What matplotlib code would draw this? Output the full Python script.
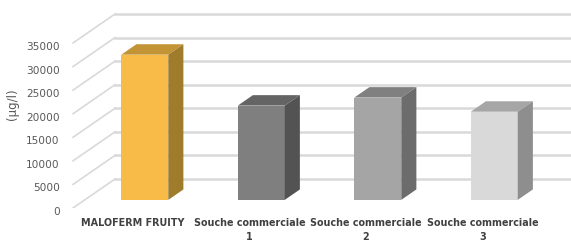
import numpy as np
import matplotlib
matplotlib.use("Agg")
import matplotlib.pyplot as plt
import matplotlib.transforms as mtransforms
from matplotlib.patches import Polygon

# data
categories = ["MALOFERM FRUITY", "Souche commerciale\n1", "Souche commerciale\n2", "Souche commerciale\n3"]
values = [30800, 20000, 21700, 18700]
yticks = [0, 5000, 10000, 15000, 20000, 25000, 30000, 35000]

# face colours: front, top, side
front_cols = ["#F9BB47", "#7F7F7F", "#A5A5A5", "#D9D9D9"]
top_cols = ["#C39435", "#646464", "#808080", "#A6A6A6"]
side_cols = ["#9F7B2C", "#535353", "#6C6C6C", "#8E8E8E"]

W, H = 571, 245
fig = plt.figure(figsize=(W / 100, H / 100), dpi=100)
# axes: left at 68 px, bottom at value 0 of the front plane (37 px)
ax = fig.add_axes([68 / W, 37 / H, 1 - 68 / W, 1 - 37 / H])
cat_px = 116.5            # pixels per category
val_px = 165 / 35000      # pixels per value unit
ax.set_xlim((68 - 133) / cat_px, (571 - 133) / cat_px)
ax.set_ylim(0, 208 / val_px)

# depth of the box (full): 42 px right, 29 px up
DX = 42 / cat_px
DY = 29 / val_px
x_front = (73 - 133) / cat_px
x_right = ax.get_xlim()[1]

grid_c = "#D9D9D9"
for v in yticks:
    # side wall line
    ax.plot([x_front, x_front + DX], [v, v + DY], color=grid_c, lw=1.2, zorder=1)
    # back wall line
    ax.plot([x_front + DX, x_right], [v + DY, v + DY], color=grid_c, lw=1.8, zorder=1)

bw = 47 / cat_px
d0, d1 = 0.28, 0.64
for i, v in enumerate(values):
    x0 = i - bw / 2 + d0 * DX
    x1 = x0 + bw
    y0 = d0 * DY
    y1 = y0 + v
    ddx = (d1 - d0) * DX
    ddy = (d1 - d0) * DY
    front = Polygon([(x0, y0), (x1, y0), (x1, y1), (x0, y1)], closed=True,
                    fc=front_cols[i], ec="none", zorder=3)
    top = Polygon([(x0, y1), (x1, y1), (x1 + ddx, y1 + ddy), (x0 + ddx, y1 + ddy)],
                  closed=True, fc=top_cols[i], ec="none", zorder=3)
    side = Polygon([(x1, y0), (x1 + ddx, y0 + ddy), (x1 + ddx, y1 + ddy), (x1, y1)],
                   closed=True, fc=side_cols[i], ec="none", zorder=3)
    for p in (front, top, side):
        ax.add_patch(p)

for s in ax.spines.values():
    s.set_visible(False)
ax.set_yticks(yticks)
ax.set_yticklabels([str(t) for t in yticks], fontsize=7.6, color="#595959")
ax.tick_params(axis="y", length=0, pad=6)
shift = mtransforms.ScaledTranslation(0, -3 / 100, fig.dpi_scale_trans)
for lab in ax.get_yticklabels():
    lab.set_transform(lab.get_transform() + shift)
ax.set_xticks(range(len(categories)))
ax.set_xticklabels(categories, fontsize=6.9, fontweight="bold", color="#404040",
                   linespacing=1.5)
ax.tick_params(axis="x", length=0, pad=7)
ax.set_ylabel("(µg/l)", fontsize=8.5, color="#595959", labelpad=5)

fig.savefig("out.png", dpi=100)
